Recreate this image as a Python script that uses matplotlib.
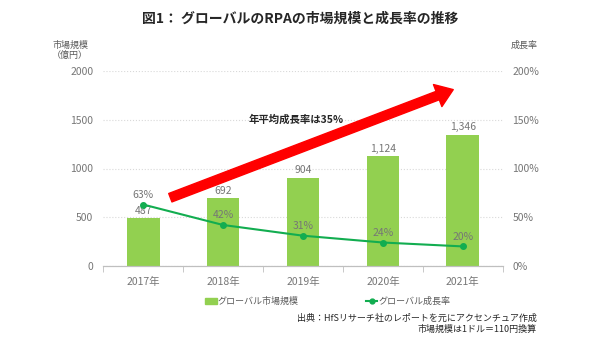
import numpy as np
import matplotlib
matplotlib.use("Agg")
import matplotlib.pyplot as plt
from matplotlib.patches import FancyArrowPatch, Patch
from matplotlib.lines import Line2D

plt.rcParams['font.family'] = ['Noto Sans CJK JP', 'DejaVu Sans']

# data
years = ['2017年', '2018年', '2019年', '2020年', '2021年']
market = [487, 692, 904, 1124, 1346]           # 億円
growth = [63, 42, 31, 24, 20]                  # %
market_labels = ['487', '692', '904', '1,124', '1,346']

bar_color = '#92d050'
line_color = '#12ad50'
txt_grey = '#767676'

fig = plt.figure(figsize=(6, 3.37), dpi=100)
ax = fig.add_axes([0.172, 0.211, 0.666, 0.578])
ax2 = ax.twinx()

x = np.arange(len(years))
ax.bar(x, market, width=0.41, color=bar_color, zorder=2)
for xi, v, lab in zip(x, market, market_labels):
    ax.text(xi, v + 25, lab, ha='center', va='bottom', fontsize=7.5, color=txt_grey)

ax2.plot(x, growth, color=line_color, lw=1.5, marker='o', ms=4, zorder=3)
for xi, g in zip(x, growth):
    ax2.text(xi, g + 5, f'{g}%', ha='center', va='bottom', fontsize=7.5, color=txt_grey)

ax.set_xlim(-0.5, 4.5)
ax.set_ylim(0, 2000)
ax2.set_ylim(0, 200)
ax.set_yticks([0, 500, 1000, 1500, 2000])
ax2.set_yticks([0, 50, 100, 150, 200])
ax2.set_yticklabels([f'{v}%' for v in [0, 50, 100, 150, 200]])
ax.set_xticks(x)
ax.set_xticklabels(years)
ax.set_xticks(np.arange(-0.5, 5, 1), minor=True)
ax.tick_params(axis='x', which='major', length=0, labelsize=7.5, colors=txt_grey, pad=8)
ax.tick_params(axis='x', which='minor', length=4, color='#bfbfbf')
ax.tick_params(axis='y', length=0, labelsize=7.5, colors=txt_grey, pad=7)
ax2.tick_params(axis='y', length=0, labelsize=7.5, colors=txt_grey, pad=7)

ax.yaxis.grid(True, color='#d9d9d9', ls=':', lw=0.8, zorder=0)
ax.set_axisbelow(True)
for a in (ax, ax2):
    for s in ['top', 'left', 'right']:
        a.spines[s].set_visible(False)
    a.spines['bottom'].set_color('#bfbfbf')

# red arrow
arr = FancyArrowPatch((0.34, 700), (3.88, 1810), transform=ax.transData,
                      arrowstyle='simple,head_length=1.2,head_width=1.7,tail_width=0.65',
                      mutation_scale=10, color='#ff0000', zorder=4, shrinkA=0, shrinkB=0)
ax.add_patch(arr)
ax.text(1.92, 1500, '年平均成長率は35%', ha='center', va='center', fontsize=7.5,
        fontweight='bold', color='#262626', zorder=5)

fig.text(0.5, 0.945, '図1： グローバルのRPAの市場規模と成長率の推移', ha='center', va='center',
         fontsize=10, fontweight='bold', color='#262626')
fig.text(0.117, 0.85, '市場規模\n（億円）', ha='center', va='center', fontsize=6.5,
         color='#595959', linespacing=1.2)
fig.text(0.873, 0.865, '成長率', ha='center', va='center', fontsize=6.5, color='#595959')

# legend
h1 = Patch(color=bar_color)
h2 = Line2D([], [], color=line_color, marker='o', ms=3.5, lw=1.5)
fig.legend([h1], ['グローバル市場規模'], loc='center', bbox_to_anchor=(0.42, 0.105),
           frameon=False, fontsize=6.5, labelcolor='#595959', handlelength=1.3,
           handleheight=0.6, handletextpad=0.1)
fig.legend([h2], ['グローバル成長率'], loc='center', bbox_to_anchor=(0.68, 0.105),
           frameon=False, fontsize=6.5, labelcolor='#595959', handlelength=1.3,
           handletextpad=0.1)

fig.text(0.895, 0.04, '出典：HfSリサーチ社のレポートを元にアクセンチュア作成\n市場規模は1ドル＝110円換算',
         ha='right', va='center', fontsize=6.5, color='#262626', linespacing=1.3,
         multialignment='right')

fig.savefig('out.png', dpi=100, facecolor='white')
